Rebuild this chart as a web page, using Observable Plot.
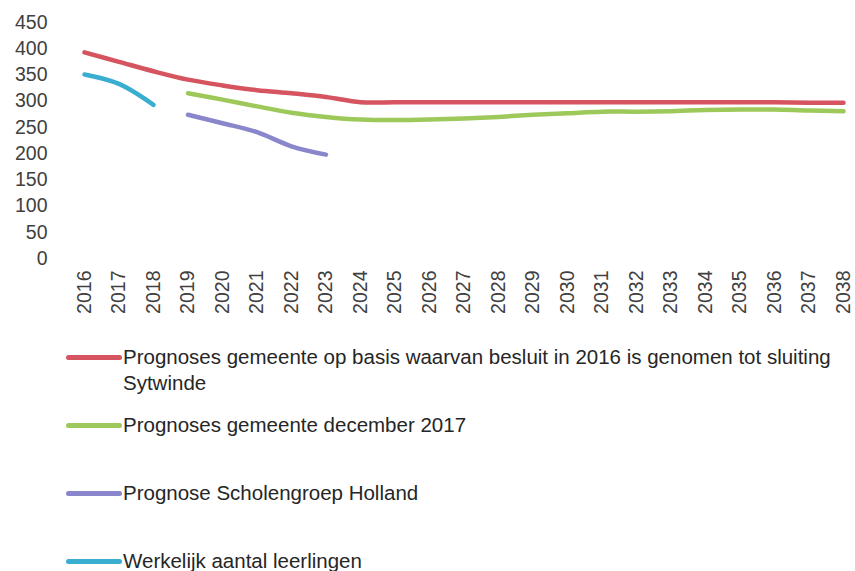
<!DOCTYPE html>
<html><head><meta charset="utf-8">
<script src="https://cdn.jsdelivr.net/npm/d3@7"></script>
<script src="https://cdn.jsdelivr.net/npm/@observablehq/plot@0.6"></script>
<style>
html,body{margin:0;padding:0;background:#fff;overflow:hidden;width:855px;height:571px}
#chart svg{display:block}
#legend{position:relative;margin-top:14px;font-family:"Liberation Sans Narrow","Arial Narrow",sans-serif;font-size:20.5px;color:#262626}
.item{position:relative;height:68px;line-height:26px;padding-left:123px;white-space:nowrap}
.sw{position:absolute;left:66px;top:11px;width:56px;height:5px;border-radius:3px}
</style></head><body>
<div id="chart"></div><div id="legend"></div>
<script>
const years = [2016,2017,2018,2019,2020,2021,2022,2023,2024,2025,2026,2027,2028,2029,2030,2031,2032,2033,2034,2035,2036,2037,2038];
const yTicks = [0,50,100,150,200,250,300,350,400,450];
const seriesNames = [
  "Prognoses gemeente op basis waarvan besluit in 2016 is genomen tot sluiting\nSytwinde",
  "Prognoses gemeente december 2017",
  "Prognose Scholengroep Holland",
  "Werkelijk aantal leerlingen"
];
const seriesColors = ["#d5545f","#9dc85a","#8a86cc","#3aaed0"];
const redValues    = [393,375,357,341,330,321,315,308,298,298,298,298,298,298,298,298,298,298,298,298,298,297,297];
const greenValues  = [null,null,null,315,303,290,278,270,265,264,265,267,270,274,277,280,280,281,283,284,284,282,281];
const purpleValues = [null,null,null,274,258,241,214,198,null,null,null,null,null,null,null,null,null,null,null,null,null,null,null];
const cyanValues   = [351,333,293,null,null,null,null,null,null,null,null,null,null,null,null,null,null,null,null,null,null,null,null];
const allValues = [redValues, greenValues, purpleValues, cyanValues];

const lineMarks = allValues.map((vals, k) => {
  const pts = years.map((yr, i) => ({year: yr, value: vals[i]})).filter(d => d.value != null);
  return Plot.line(pts, {x: "year", y: "value", stroke: seriesColors[k], strokeWidth: 4.5, curve: "catmull-rom"});
});

const chart = Plot.plot({
  width: 855, height: 330,
  marginLeft: 84, marginRight: 12, marginTop: 22, marginBottom: 72,
  x: {domain: [2016, 2038], label: null},
  y: {domain: [0, 450], label: null},
  style: {fontFamily: "'Liberation Sans', sans-serif", background: "#fff"},
  marks: [
    Plot.axisY(yTicks, {tickSize: 0, tickPadding: 37, fontSize: 19.5, fill: "#404040", label: null}),
    Plot.axisX(years, {tickSize: 0, tickPadding: 12, tickRotate: -90, tickFormat: d => String(d), fontSize: 19.5, fill: "#404040", label: null}),
    ...lineMarks
  ]
});
document.getElementById("chart").appendChild(chart);

const legend = document.getElementById("legend");
seriesNames.forEach((name, k) => {
  const item = document.createElement("div");
  item.className = "item";
  const sw = document.createElement("span");
  sw.className = "sw";
  sw.style.background = seriesColors[k];
  item.appendChild(sw);
  name.split("\n").forEach((part, j) => {
    if (j > 0) item.appendChild(document.createElement("br"));
    item.appendChild(document.createTextNode(part));
  });
  legend.appendChild(item);
});
</script>
</body></html>
